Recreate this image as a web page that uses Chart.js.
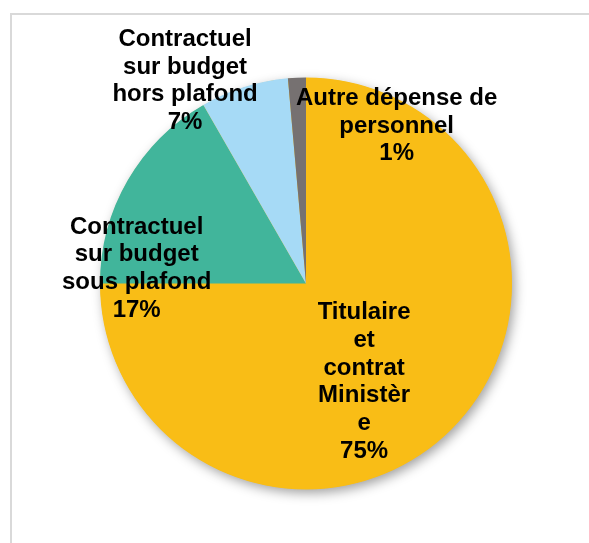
<!DOCTYPE html>
<html>
<head>
<meta charset="utf-8">
<script src="https://cdn.jsdelivr.net/npm/chart.js@4/dist/chart.umd.min.js"></script>
<style>
  html, body { margin: 0; padding: 0; background: #fff; }
  #wrap { position: relative; width: 589px; height: 543px; overflow: hidden; }
  #frame {
    position: absolute; left: 10px; top: 13px; right: -10px; bottom: -10px;
    border-top: 2px solid #d9d9d9; border-left: 2px solid #d9d9d9;
  }
  canvas { position: absolute; left: 0; top: 0; }
</style>
</head>
<body>
<div id="wrap">
  <div id="frame"></div>
  <canvas id="chart" width="589" height="543"></canvas>
</div>
<script>
// Répartition des dépenses de personnel (en % du total)
const categories = [
  'Titulaire et contrat Ministère',
  'Contractuel sur budget sous plafond',
  'Contractuel sur budget hors plafond',
  'Autre dépense de personnel'
];
const labelLines = [
  ['Titulaire', 'et', 'contrat', 'Ministèr', 'e'],
  ['Contractuel', 'sur budget', 'sous plafond'],
  ['Contractuel', 'sur budget', 'hors plafond'],
  ['Autre dépense de', 'personnel']
];
const shares = [75.0, 16.7, 6.9, 1.4];
const sliceColors = ['#F9BD16', '#41B59B', '#A6DAF6', '#767171'];

// label block centres, as fractions of the radius from the pie centre
const labelOffsets = [
  [0.282, 0.478],
  [-0.822, -0.073],
  [-0.587, -0.984],
  [0.440, -0.765]
];

const shadowPlugin = {
  id: 'pieShadow',
  beforeDatasetsDraw(chart) {
    const arc = chart.getDatasetMeta(0).data[0];
    if (!arc) return;
    const ctx = chart.ctx;
    ctx.save();
    ctx.shadowColor = 'rgba(0,0,0,0.38)';
    ctx.shadowBlur = 12;
    ctx.shadowOffsetX = 3;
    ctx.shadowOffsetY = 4;
    ctx.beginPath();
    ctx.arc(arc.x, arc.y, arc.outerRadius - 0.5, 0, Math.PI * 2);
    ctx.fillStyle = sliceColors[0];
    ctx.fill();
    ctx.restore();
  }
};

const labelPlugin = {
  id: 'sliceLabels',
  afterDatasetsDraw(chart) {
    const meta = chart.getDatasetMeta(0);
    const values = chart.data.datasets[0].data;
    const total = values.reduce((a, b) => a + b, 0);
    const ctx = chart.ctx;
    const lh = 27.7;
    ctx.save();
    ctx.font = 'bold 24px "Liberation Sans", Arial, sans-serif';
    ctx.fillStyle = '#000';
    ctx.textAlign = 'center';
    ctx.textBaseline = 'middle';
    meta.data.forEach((arc, i) => {
      const lines = labelLines[i].concat([Math.round(values[i] / total * 100) + '%']);
      const cx = arc.x + labelOffsets[i][0] * arc.outerRadius;
      const cy = arc.y + labelOffsets[i][1] * arc.outerRadius;
      const y0 = cy - (lines.length - 1) * lh / 2;
      lines.forEach((t, k) => ctx.fillText(t, cx, y0 + k * lh));
    });
    ctx.restore();
  }
};

new Chart(document.getElementById('chart'), {
  type: 'pie',
  data: {
    labels: categories,
    datasets: [{
      data: shares,
      backgroundColor: sliceColors,
      borderWidth: 0,
      hoverOffset: 0
    }]
  },
  options: {
    responsive: false,
    animation: false,
    layout: { padding: { left: 100, right: 77, top: 77.5, bottom: 53.5 } },
    plugins: {
      legend: { display: false },
      tooltip: { enabled: false }
    }
  },
  plugins: [shadowPlugin, labelPlugin]
});
</script>
</body>
</html>
